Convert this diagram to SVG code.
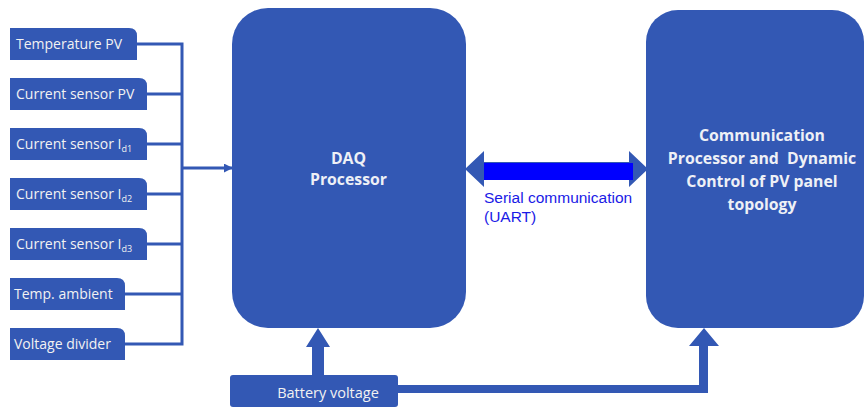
<svg xmlns="http://www.w3.org/2000/svg" width="867" height="410" viewBox="0 0 867 410">
<style>
.box{fill:#3358B4;}
.lbl{font-family:"Open Sans","Liberation Sans",sans-serif;font-size:14px;fill:#F2F2F2;}
.sub{font-size:9px;}
.big{font-family:"Open Sans","Liberation Sans",sans-serif;font-size:15.8px;font-weight:bold;fill:#EEF0F6;}
.wire{stroke:#3358B4;stroke-width:3;fill:none;}
.ser{font-family:"Liberation Sans",Arial,sans-serif;font-size:15.5px;fill:#1A1AE6;}
</style>
<defs>
<marker id="ah" viewBox="0 0 10 10" refX="9" refY="5" markerWidth="3" markerHeight="3" orient="auto" markerUnits="strokeWidth">
<path d="M0,0 L10,5 L0,10 z" fill="#3358B4"/>
</marker>
</defs>
<rect width="867" height="410" fill="#FFFFFF"/>

<g id="connectors">
<path class="wire" d="M137,44 H182 M147,94 H182 M147,144 H182 M147,194 H182 M147,244 H182 M125,294 H182 M125,344 H182 M182,42.5 V345.5"/>
<path class="wire" d="M182,168 H232" marker-end="url(#ah)"/>
<path d="M465,169 L484,151 L484,162 L629,162 L629,151 L648,169 L629,187 L629,177 L484,177 L484,187 Z" fill="#3358B4"/>
<rect x="484" y="163" width="149" height="17" fill="#0000FF"/>
<path d="M312,376 V347 H306 L318,328 L330,347 H324 V376 Z" fill="#3358B4"/>
<path d="M398,385 H699 V346 H689 L704,328 L719,346 H708 V393 H398 Z" fill="#3358B4"/>
</g>

<g id="temperature-pv">
<path class="box" d="M10,28 H129 Q137,28 137,36 V60 H10 Z"/>
<text class="lbl" x="16" y="49">Temperature PV</text>
</g>
<g id="current-sensor-pv">
<path class="box" d="M10,78 H139 Q147,78 147,86 V110 H10 Z"/>
<text class="lbl" x="16" y="99">Current sensor PV</text>
</g>
<g id="current-sensor-id1">
<path class="box" d="M10,128 H139 Q147,128 147,136 V160 H10 Z"/>
<text class="lbl" x="16" y="149">Current sensor I<tspan class="sub" dy="3">d1</tspan></text>
</g>
<g id="current-sensor-id2">
<path class="box" d="M10,178 H139 Q147,178 147,186 V210 H10 Z"/>
<text class="lbl" x="16" y="199">Current sensor I<tspan class="sub" dy="3">d2</tspan></text>
</g>
<g id="current-sensor-id3">
<path class="box" d="M10,228 H139 Q147,228 147,236 V260 H10 Z"/>
<text class="lbl" x="16" y="249">Current sensor I<tspan class="sub" dy="3">d3</tspan></text>
</g>
<g id="temp-ambient">
<path class="box" d="M10,278 H117 Q125,278 125,286 V310 H10 Z"/>
<text class="lbl" x="14" y="299">Temp. ambient</text>
</g>
<g id="voltage-divider">
<path class="box" d="M10,328 H117 Q125,328 125,336 V360 H10 Z"/>
<text class="lbl" x="14" y="349">Voltage divider</text>
</g>

<g id="daq-processor">
<rect class="box" x="232" y="8" width="234" height="320" rx="36" ry="36"/>
<text class="big" text-anchor="middle" x="348.5" y="164">DAQ</text>
<text class="big" text-anchor="middle" x="348.5" y="185">Processor</text>
</g>

<g id="comm-processor">
<rect class="box" x="646" y="10" width="218" height="318" rx="32" ry="32"/>
<text class="big" text-anchor="middle" x="762" y="141">Communication</text>
<text class="big" text-anchor="middle" x="762" y="164">Processor and&#160; Dynamic</text>
<text class="big" text-anchor="middle" x="762" y="187">Control of PV panel</text>
<text class="big" text-anchor="middle" x="762" y="210">topology</text>
</g>

<g id="serial-label">
<text class="ser" x="484" y="203">Serial communication</text>
<text class="ser" x="484" y="222">(UART)</text>
</g>

<g id="battery-voltage">
<rect class="box" x="230" y="375" width="168" height="32" rx="3"/>
<text class="lbl" text-anchor="middle" x="328" y="398" style="font-size:14.5px">Battery voltage</text>
</g>
</svg>
